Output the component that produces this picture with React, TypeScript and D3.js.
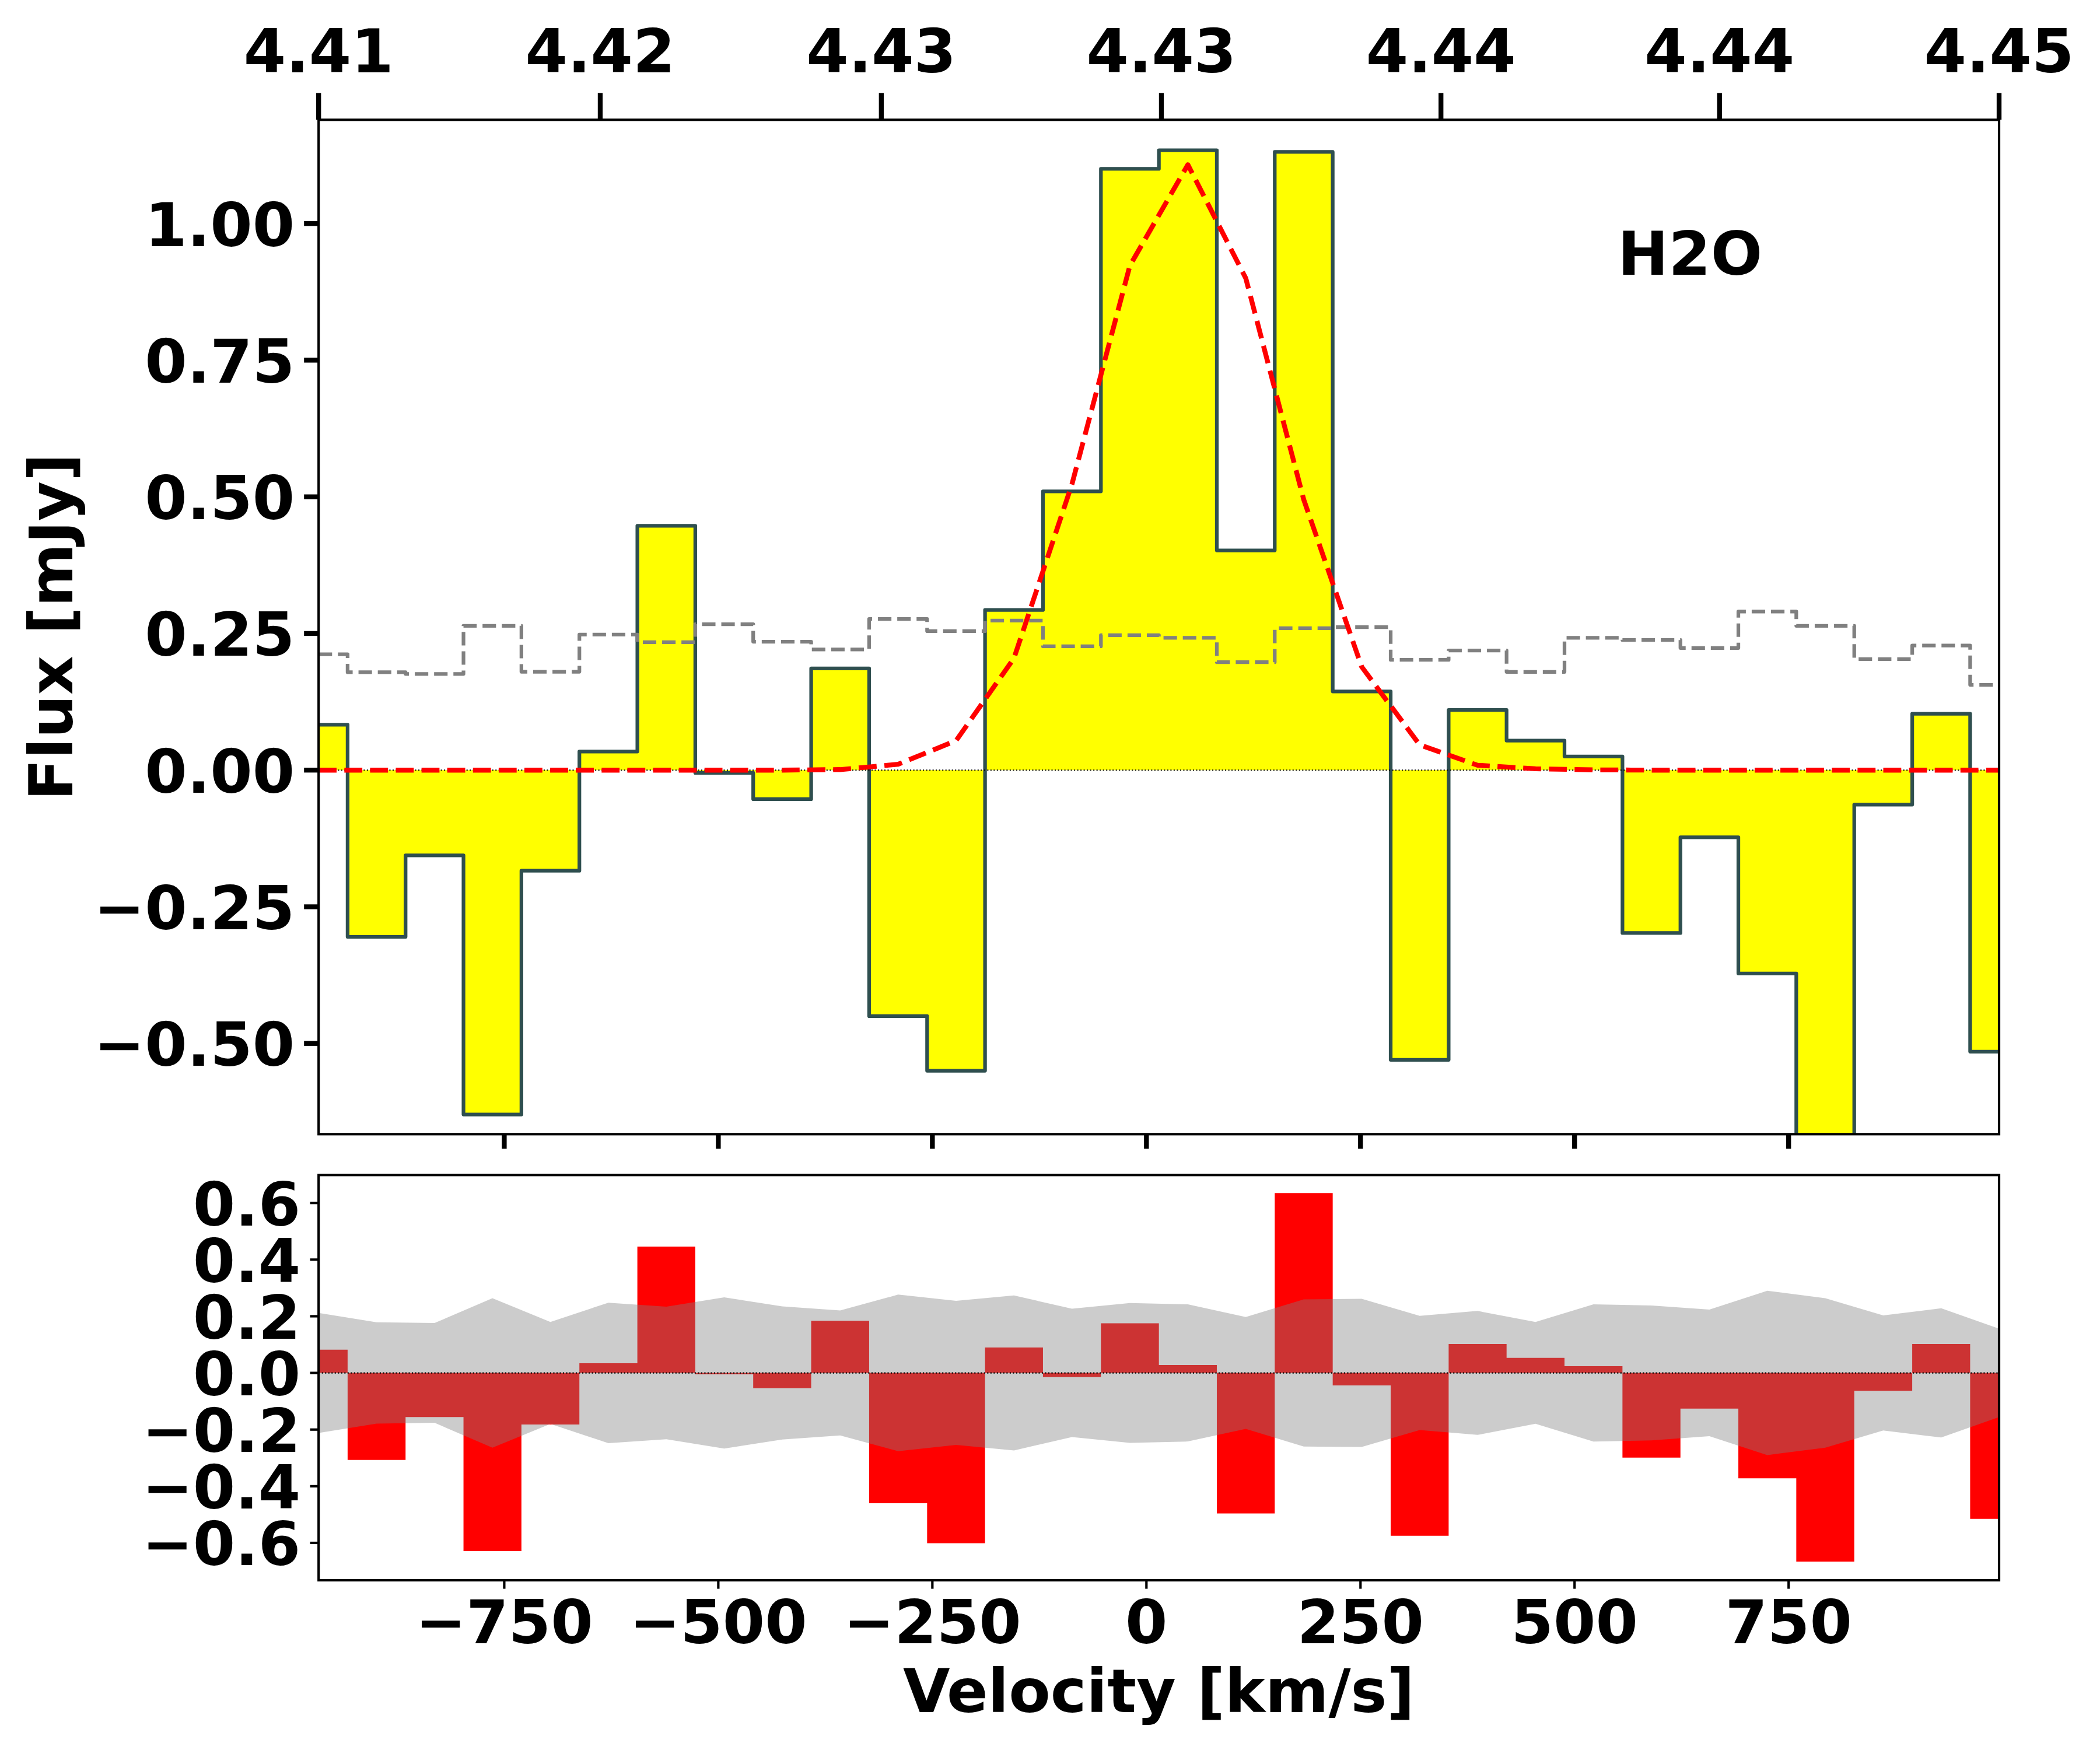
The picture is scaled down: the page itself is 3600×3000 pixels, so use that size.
import React from "react";
import * as d3 from "d3";

// Channel centres (km/s)
const velocity = [-966.8, -899.1, -831.4, -763.8, -696.1, -628.4, -560.7, -493.1, -425.4, -357.7, -290.0, -222.3, -154.7, -87.0, -19.3, 48.4, 116.0, 183.7, 251.4, 319.1, 386.8, 454.4, 522.1, 589.8, 657.5, 725.1, 792.8, 860.5, 928.2, 995.8];
const flux = [0.083, -0.305, -0.156, -0.63, -0.184, 0.034, 0.447, -0.005, -0.053, 0.186, -0.45, -0.55, 0.293, 0.51, 1.1, 1.134, 0.402, 1.131, 0.144, -0.53, 0.11, 0.054, 0.025, -0.298, -0.123, -0.372, -0.7, -0.063, 0.103, -0.515];
const model = [0, 0, 0, 0, 0, 0, 0, 0, 0, 0.001, 0.0107, 0.054, 0.2047, 0.523, 0.923, 1.1076, 0.9, 0.495, 0.189, 0.0462, 0.0089, 0.0025, 0.0005, 0, 0, 0, 0, 0, 0, 0];
const sigma = [0.212, 0.179, 0.176, 0.264, 0.18, 0.248, 0.234, 0.267, 0.235, 0.2207, 0.2764, 0.2543, 0.2735, 0.2265, 0.2468, 0.242, 0.1975, 0.2597, 0.2615, 0.2017, 0.2188, 0.1797, 0.2422, 0.238, 0.2235, 0.29, 0.264, 0.203, 0.228, 0.156];
const residual = [0.082, -0.307, -0.156, -0.629, -0.182, 0.034, 0.446, -0.005, -0.054, 0.184, -0.46, -0.601, 0.09, -0.015, 0.175, 0.028, -0.496, 0.635, -0.044, -0.575, 0.102, 0.053, 0.024, -0.299, -0.126, -0.372, -0.666, -0.063, 0.102, -0.515];

const velocityTicks = [-750, -500, -250, 0, 250, 500, 750];
const fluxTicks = [-0.5, -0.25, 0, 0.25, 0.5, 0.75, 1.0];
const residualTicks = [-0.6, -0.4, -0.2, 0, 0.2, 0.4, 0.6];
const redshiftTicks = [4.414, 4.41953, 4.42505, 4.43055, 4.43604, 4.44151, 4.447];

const FONT = "'DejaVu Sans', sans-serif";
const FS = 104.17;
const L = 546.2, R = 3427;
const T1 = 205.4, B1 = 1944.3, T2 = 2014.3, B2 = 2709;
const SPINE = 4.17;

const x = d3.scaleLinear().domain([-966.8, 995.8]).range([L, R]);
const xTop = d3.scaleLinear().domain([4.414, 4.447]).range([L, R]);
const y1 = d3.scaleLinear().domain([1.1897, -0.666]).range([T1, B1]);
const y2 = d3.scaleLinear().domain([0.6987, -0.7319]).range([T2, B2]);

const fmtMinus = (s: string) => s.replace("-", "\u2212");
const fmt2 = d3.format(".2f");
const fmt1 = d3.format(".1f");

const idx = velocity.map((_, i) => i);
const fluxArea = d3.area<number>().x(i => x(velocity[i])).y0(y1(0)).y1(i => y1(flux[i])).curve(d3.curveStep)(idx)!;
const fluxLine = d3.line<number>().x(i => x(velocity[i])).y(i => y1(flux[i])).curve(d3.curveStep)(idx)!;
const sigmaLine = d3.line<number>().x(i => x(velocity[i])).y(i => y1(sigma[i])).curve(d3.curveStep)(idx)!;
const modelLine = d3.line<number>().x(i => x(velocity[i])).y(i => y1(model[i]))(idx)!;
const resArea = d3.area<number>().x(i => x(velocity[i])).y0(y2(0)).y1(i => y2(residual[i])).curve(d3.curveStep)(idx)!;
const band = d3.area<number>().x(i => x(velocity[i])).y0(i => y2(-sigma[i])).y1(i => y2(sigma[i]))(idx)!;

const Frame = ({ top, bottom }: { top: number; bottom: number }) => (
  <rect x={L} y={top} width={R - L} height={bottom - top} fill="none" stroke="#000" strokeWidth={SPINE} />
);

export default function App() {
  return (
    <svg width={3600} height={3000} viewBox="0 0 3600 3000" style={{ position: "absolute", left: 0, top: 0, background: "#fff" }} fontFamily={FONT} fontWeight="bold" fontSize={FS}>
      <defs>
        <clipPath id="c1"><rect x={L} y={T1} width={R - L} height={B1 - T1} /></clipPath>
        <clipPath id="c2"><rect x={L} y={T2} width={R - L} height={B2 - T2} /></clipPath>
      </defs>
      <rect width={3600} height={3000} fill="#fff" />

      {/* upper panel */}
      <g clipPath="url(#c1)">
        <path d={fluxArea} fill="#ffff00" />
        <path d={fluxLine} fill="none" stroke="#2f4f4f" strokeWidth={6.25} strokeLinejoin="round" />
        <line x1={L} x2={R} y1={y1(0)} y2={y1(0)} stroke="#000" strokeWidth={2.08} strokeDasharray="2.08 3.43" />
        <path d={sigmaLine} fill="none" stroke="#808080" strokeWidth={6.25} strokeDasharray="23.1 10" strokeLinejoin="round" />
        <path d={modelLine} fill="none" stroke="#ff0000" strokeWidth={8.33} strokeDasharray="30.8 13.3" strokeLinejoin="round" />
      </g>
      <Frame top={T1} bottom={B1} />
      {fluxTicks.map(t => (
        <g key={t}>
          <line x1={L - 25} x2={L} y1={y1(t)} y2={y1(t)} stroke="#000" strokeWidth={8.33} />
          <text x={L - 41} y={y1(t) + 38.5} textAnchor="end">{fmtMinus(fmt2(t))}</text>
        </g>
      ))}
      {velocityTicks.map(t => (
        <line key={t} x1={x(t)} x2={x(t)} y1={B1} y2={B1 + 25} stroke="#000" strokeWidth={8.33} />
      ))}
      {redshiftTicks.map(t => (
        <g key={t}>
          <line x1={xTop(t)} x2={xTop(t)} y1={T1 - 46} y2={T1} stroke="#000" strokeWidth={8.33} />
          <text x={xTop(t)} y={123.5} textAnchor="middle">{fmt2(t)}</text>
        </g>
      ))}
      <text x={2773} y={471}>H2O</text>
      <text transform={`translate(124,${(T1 + B1) / 2}) rotate(-90)`} textAnchor="middle">Flux [mJy]</text>

      {/* lower panel */}
      <g clipPath="url(#c2)">
        <path d={resArea} fill="#ff0000" />
        <path d={band} fill="#808080" fillOpacity={0.4} />
        <line x1={L} x2={R} y1={y2(0)} y2={y2(0)} stroke="#000" strokeWidth={2.08} strokeDasharray="2.08 3.43" />
      </g>
      <Frame top={T2} bottom={B2} />
      {residualTicks.map(t => (
        <g key={t}>
          <line x1={L - 14.6} x2={L} y1={y2(t)} y2={y2(t)} stroke="#000" strokeWidth={4.17} />
          <text x={L - 31} y={y2(t) + 38.5} textAnchor="end">{fmtMinus(fmt1(t))}</text>
        </g>
      ))}
      {velocityTicks.map(t => (
        <g key={t}>
          <line x1={x(t)} x2={x(t)} y1={B2} y2={B2 + 14.6} stroke="#000" strokeWidth={4.17} />
          <text x={x(t)} y={2816.7} textAnchor="middle">{fmtMinus(String(t))}</text>
        </g>
      ))}
      <text x={(L + R) / 2} y={2935} textAnchor="middle">Velocity [km/s]</text>
    </svg>
  );
}
